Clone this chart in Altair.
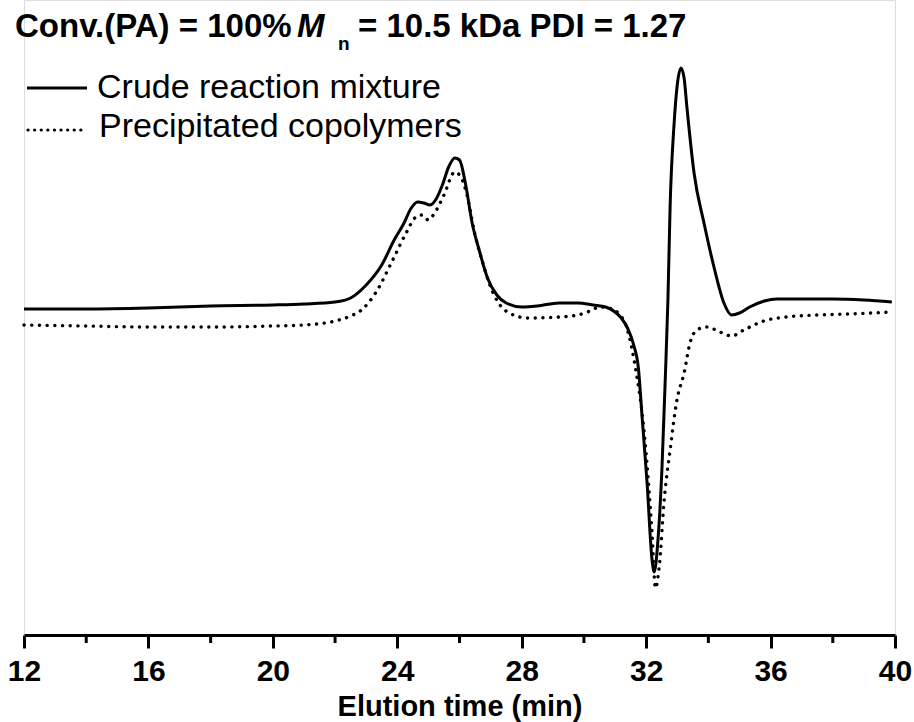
import altair as alt
import pandas as pd

# ---- data (elution time in min, detector response in a.u.) ----
crude_t = [12.0, 14.0, 16.0, 18.0, 20.0, 21.0, 22.0, 22.5, 23.0, 23.5, 23.9, 24.2, 24.45,
           24.65, 24.85, 25.05, 25.25, 25.45, 25.65, 25.85, 26.0, 26.2, 26.4, 26.65, 26.9,
           27.2, 27.5, 28.0, 28.5, 29.2, 29.8, 30.3, 30.7, 31.0, 31.2, 31.4, 31.6, 31.75,
           31.87, 32.03, 32.19, 32.26, 32.38, 32.51, 32.61, 32.70, 32.77, 32.9, 33.0, 33.12,
           33.22, 33.31, 33.54, 33.86, 34.18, 34.5, 34.75, 35.0, 35.33, 35.8, 36.2, 37.0,
           38.0, 39.0, 39.9]
crude_v = [3.23, 3.23, 3.24, 3.26, 3.27, 3.28, 3.30, 3.34, 3.47, 3.67, 3.92, 4.08, 4.24,
           4.30, 4.29, 4.27, 4.33, 4.47, 4.65, 4.74, 4.72, 4.47, 4.10, 3.80, 3.54,
           3.37, 3.29, 3.25, 3.26, 3.29, 3.29, 3.27, 3.25, 3.20, 3.14, 3.04, 2.87, 2.64,
           2.15, 1.49, 0.72, 0.60, 0.92, 1.65, 2.49, 3.32, 4.25, 5.09, 5.47, 5.64,
           5.54, 5.25, 4.59, 4.09, 3.65, 3.29, 3.17, 3.19, 3.25, 3.31, 3.33, 3.33,
           3.33, 3.32, 3.30]

precip_t = [12.0, 14.0, 16.0, 18.0, 20.0, 21.0, 22.0, 22.5, 22.85, 23.3, 23.9, 24.3, 24.6,
            24.8, 25.0, 25.2, 25.5, 25.85, 26.0, 26.2, 26.5, 26.75, 27.0, 27.3, 27.6, 28.2,
            29.2, 29.8, 30.2, 30.5, 30.8, 31.1, 31.4, 31.65, 31.94, 32.19, 32.3, 32.42,
            32.58, 32.77, 32.99, 33.22, 33.41, 33.63, 33.95, 34.37, 34.75, 35.14, 35.78,
            36.5, 37.5, 38.5, 39.9]
precip_v = [3.07, 3.06, 3.05, 3.05, 3.06, 3.07, 3.11, 3.16, 3.22, 3.39, 3.75, 4.00, 4.15,
            4.17, 4.12, 4.19, 4.37, 4.60, 4.57, 4.42, 3.97, 3.69, 3.45, 3.27, 3.19, 3.14,
            3.15, 3.17, 3.21, 3.25, 3.24, 3.19, 3.02, 2.65, 1.99, 0.99, 0.44, 0.65,
            1.32, 1.82, 2.32, 2.59, 2.89, 3.02, 3.05, 3.00, 2.96, 3.02, 3.11,
            3.15, 3.17, 3.18, 3.20]

major_ticks = [12, 16, 20, 24, 28, 32, 36, 40]
minor_ticks = [14, 18, 22, 26, 30, 34, 38]
legend_labels = ["Crude reaction mixture", "Precipitated copolymers"]
title_parts = ["Conv.(PA) = 100%", "M", "n", "= 10.5 kDa PDI = 1.27"]
x_title = "Elution time (min)"

crude_df = pd.DataFrame({"t": crude_t, "v": crude_v})
precip_df = pd.DataFrame({"t": precip_t, "v": precip_v})
minor_df = pd.DataFrame({"t": minor_ticks})

FONT = "Liberation Sans"

x_scale = alt.Scale(domain=[12, 40], nice=False, zero=False)
y_scale = alt.Scale(domain=[-0.03, 6.32], nice=False, zero=False)
x_axis = alt.Axis(
    values=major_ticks, title=x_title, grid=False,
    domainColor="black", domainWidth=3, tickColor="black", tickWidth=3, tickSize=13,
    labelFont=FONT, labelFontSize=30, labelFontWeight="bold", labelColor="black",
    labelPadding=8, labelFlush=False, labelOverlap=False, labelBound=False,
    titleFont=FONT, titleFontSize=29, titleFontWeight="bold", titleColor="black",
    titlePadding=6,
)
X = alt.X("t:Q", scale=x_scale, axis=x_axis)
Y = alt.Y("v:Q", scale=y_scale, axis=None)

solid = alt.Chart(crude_df).mark_line(
    color="black", strokeWidth=3, interpolate="monotone"
).encode(x=X, y=Y)

dotted = alt.Chart(precip_df).mark_line(
    color="black", strokeWidth=3.4, interpolate="monotone",
    strokeDash=[0.1, 7.6], strokeCap="round"
).encode(x=X, y=Y)

minor = alt.Chart(minor_df).mark_rule(color="black", strokeWidth=3).encode(
    x=X, y=alt.value(635), y2=alt.value(643)
)

# legend (drawn manually)
leg_df1 = pd.DataFrame({"label": [legend_labels[0]]})
leg_df2 = pd.DataFrame({"label": [legend_labels[1]]})
leg_line1 = alt.Chart(leg_df1).mark_rule(color="black", strokeWidth=3).encode(
    x=alt.value(3), x2=alt.value(63), y=alt.value(88)
)
leg_line2 = alt.Chart(leg_df2).mark_rule(
    color="black", strokeWidth=3.2, strokeDash=[0.1, 6.5], strokeCap="round"
).encode(x=alt.value(4), x2=alt.value(63), y=alt.value(130))
leg_text1 = alt.Chart(leg_df1).mark_text(
    font=FONT, fontSize=34, align="left", baseline="alphabetic", color="black"
).encode(text="label:N", x=alt.value(73), y=alt.value(98))
leg_text2 = alt.Chart(leg_df2).mark_text(
    font=FONT, fontSize=34, align="left", baseline="alphabetic", color="black"
).encode(text="label:N", x=alt.value(75), y=alt.value(137))

# title with italic M and subscript n
def title_piece(txt, x, y, size, style="normal"):
    df = pd.DataFrame({"s": [txt]})
    return alt.Chart(df).mark_text(
        font=FONT, fontSize=size, fontWeight="bold", fontStyle=style,
        align="left", baseline="alphabetic", color="black"
    ).encode(text="s:N", x=alt.value(x), y=alt.value(y))

t1 = title_piece(title_parts[0], -9, 37, 33)
t2 = title_piece(title_parts[1], 273, 37, 33, "italic")
t3 = title_piece(title_parts[2], 314, 50, 19)
t4 = title_piece(title_parts[3], 334, 37, 33)

chart = alt.layer(
    solid, dotted, minor, leg_line1, leg_line2, leg_text1, leg_text2, t1, t2, t3, t4
).properties(
    width=871, height=635,
    autosize=alt.AutoSizeParams(type="none"),
    padding={"left": 24, "top": 0, "right": 19, "bottom": 87},
).configure_view(strokeWidth=0, stroke="transparent").configure_axis(
    grid=False
).configure(background="white")

chart.save("out.html", embed_options={"renderer": "svg", "actions": False})
